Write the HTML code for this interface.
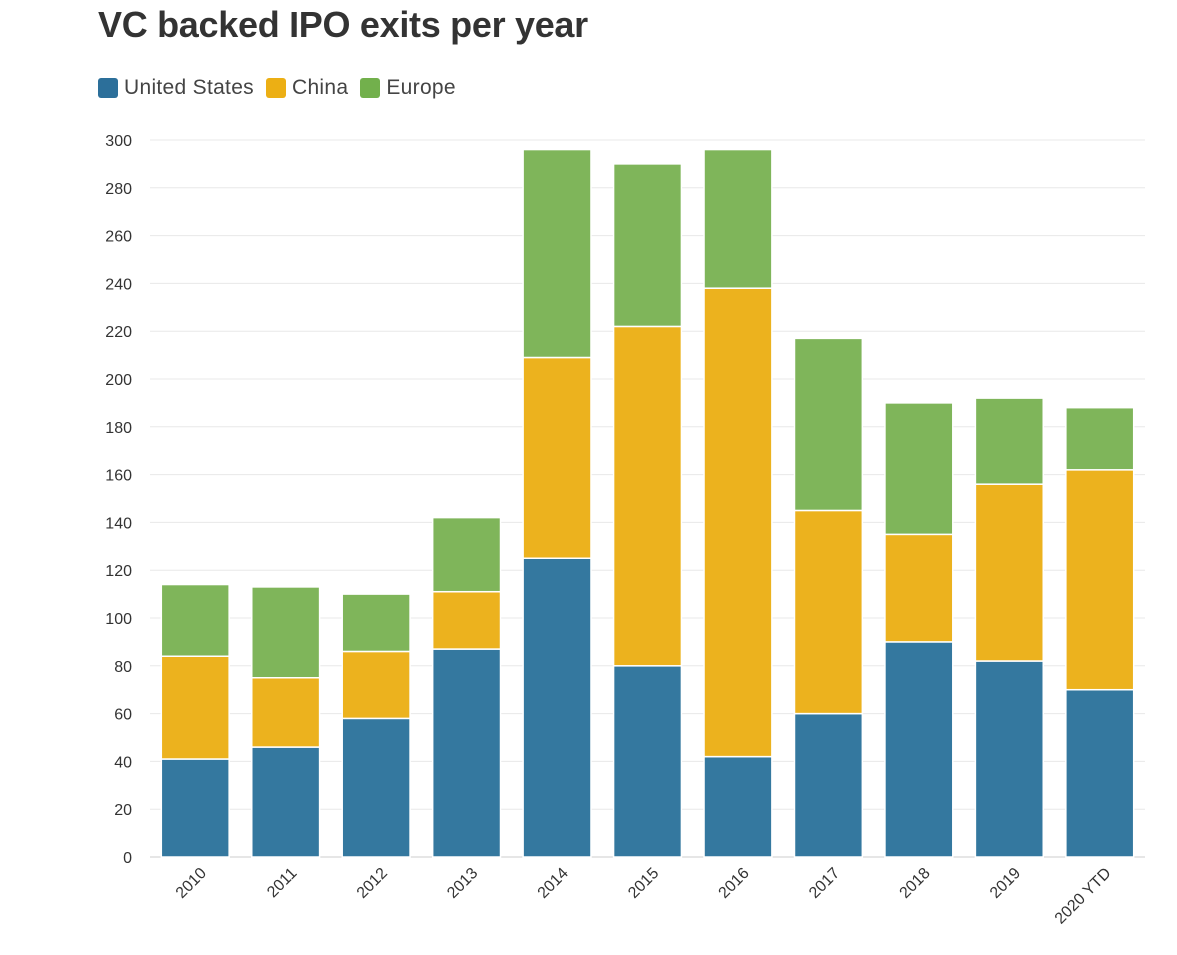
<!DOCTYPE html>
<html><head><meta charset="utf-8"><style>
body{margin:0;background:#fff;width:1177px;height:955px;overflow:hidden;font-family:"Liberation Sans",sans-serif}
#title{position:absolute;left:98px;top:4px;font-size:36px;font-weight:bold;color:#333;letter-spacing:-0.3px}
#legend{position:absolute;left:98px;top:76px;font-size:21px;color:#444;display:flex;gap:12px;letter-spacing:0.3px}
.li{display:flex;align-items:center;gap:6px}
.sw{width:20px;height:20px;border-radius:3px}
svg{position:absolute;left:0;top:0}
</style></head><body>
<div id="title">VC backed IPO exits per year</div>
<div id="legend">
<div class="li"><div class="sw" style="background:#2c6f9a"></div>United States</div>
<div class="li"><div class="sw" style="background:#ecaf14"></div>China</div>
<div class="li"><div class="sw" style="background:#72b04c"></div>Europe</div>
</div>
<svg id="chart" width="1177" height="955"></svg>
<script>
const categories=["2010","2011","2012","2013","2014","2015","2016","2017","2018","2019","2020 YTD"];
const usValues=[41,46,58,87,125,80,42,60,90,82,70];
const chinaValues=[43,29,28,24,84,142,196,85,45,74,92];
const europeValues=[30,38,24,31,87,68,58,72,55,36,26];
const yTicks=[0,20,40,60,80,100,120,140,160,180,200,220,240,260,280,300];
const NS="http://www.w3.org/2000/svg";
const svg=document.getElementById('chart');
const x0=150,x1=1145,y0=857,y1=140,yMax=300;
const band=(x1-x0)/categories.length;
const bw=band*0.75;
const y=v=>y0-(v/yMax)*(y0-y1);
const xc=i=>x0+band*(i+0.5);
function mk(t,a){const e=document.createElementNS(NS,t);for(const k in a)e.setAttribute(k,a[k]);svg.appendChild(e);return e;}
yTicks.forEach(t=>{
 const g=mk('line',{x1:x0,x2:x1,y1:y(t),y2:y(t),stroke:t===0?'#ccc':'#e8e8e8','stroke-width':1});
 
 
 const l=mk('text',{x:132,y:y(t)+6,'text-anchor':'end','font-size':16,fill:'#333'});
 l.textContent=t;
 
 
});
const series=[[usValues,'#34789f','us'],[chinaValues,'#ecb21e','china'],[europeValues,'#7fb55a','europe']];
categories.forEach((c,i)=>{
 let base=0;
 series.forEach(([vals,col,nm])=>{
  const v=vals[i];
  const r=mk('rect',{x:xc(i)-bw/2,y:y(base+v),width:bw,height:y(base)-y(base+v),fill:col,stroke:'#fff','stroke-width':1.5});
  
  
  base+=v;
 });
 const t=mk('text',{x:xc(i)+12,y:874,'text-anchor':'end','font-size':16,fill:'#333',transform:`rotate(-45 ${xc(i)+12} 874)`});
 t.textContent=c;
 
 
});
</script>
</body></html>
